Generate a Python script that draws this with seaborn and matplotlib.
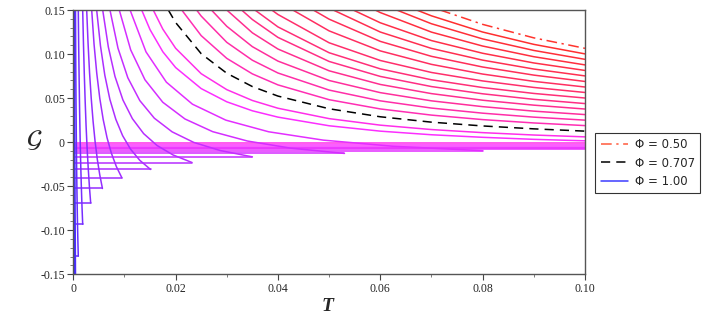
import colorsys
import numpy as np
import pandas as pd
import matplotlib
matplotlib.use("Agg")
import matplotlib.pyplot as plt
import seaborn as sns
from matplotlib.lines import Line2D
from matplotlib.ticker import MultipleLocator

# ---- data ----------------------------------------------------------------
# common T positions used by the curves that reach the right edge
t_grid = [0.015, 0.0175, 0.02, 0.025, 0.03, 0.035, 0.04, 0.05, 0.06, 0.07, 0.08, 0.09, 0.10]

# curves without a cusp inside the window: phi, T where G leaves the top (0.15),
# then G on the last len(row) entries of t_grid
open_phi = [0.500, 0.514, 0.528, 0.541, 0.555, 0.569, 0.583, 0.597, 0.610,
            0.624, 0.638, 0.652, 0.666, 0.679, 0.693, 0.707, 0.720, 0.735]
open_t_top = [0.0717, 0.0671, 0.0632, 0.0590, 0.0547, 0.0508, 0.0469, 0.0429, 0.0388,
              0.0355, 0.0329, 0.0300, 0.0270, 0.0241, 0.0212, 0.01857, 0.01563, 0.01337]
open_g = [
    [0.1337, 0.1184, 0.1065],
    [0.1434, 0.1250, 0.1110, 0.1002],
    [0.1344, 0.1172, 0.1041, 0.0940],
    [0.1471, 0.1249, 0.1091, 0.0970, 0.0877],
    [0.1355, 0.1153, 0.1009, 0.0899, 0.0814],
    [0.1250, 0.1064, 0.0931, 0.0830, 0.0752],
    [0.1396, 0.1144, 0.0974, 0.0853, 0.0761, 0.0689],
    [0.1263, 0.1036, 0.0883, 0.0773, 0.0690, 0.0626],
    [0.1449, 0.1128, 0.0927, 0.0791, 0.0695, 0.0621, 0.0564],
    [0.1308, 0.1015, 0.0832, 0.0708, 0.0620, 0.0553, 0.0501],
    [0.1392, 0.1189, 0.0916, 0.0746, 0.0631, 0.0549, 0.0486, 0.0438],
    [0.1241, 0.1057, 0.0810, 0.0655, 0.0551, 0.0476, 0.0420, 0.0376],
    [0.1315, 0.1084, 0.0920, 0.0700, 0.0562, 0.0469, 0.0403, 0.0352, 0.0313],
    [0.1431, 0.1133, 0.0930, 0.0785, 0.0591, 0.0469, 0.0387, 0.0329, 0.0284, 0.0250],
    [0.1209, 0.0951, 0.0775, 0.0650, 0.0482, 0.0377, 0.0307, 0.0256, 0.0218, 0.0188],
    [0.1358, 0.1004, 0.0782, 0.0631, 0.0523, 0.0379, 0.0288, 0.0227, 0.0184, 0.0151, 0.0125],
    [0.1283, 0.1066, 0.0777, 0.0596, 0.0473, 0.0385, 0.0267, 0.0193, 0.0143, 0.0108, 0.0081, 0.0060],
    [0.1277, 0.1026, 0.0847, 0.0608, 0.0458, 0.0356, 0.0284, 0.0186, 0.0125, 0.0084, 0.0055, 0.0032, 0.0015],
]
# flat lower branch running across the whole window (None = no lower branch seen)
open_g_low = [None] * 16 + [-0.0015, -0.0034]
band_g_low = [-0.0053, -0.0068, -0.0080]
band_phi = [0.740, 0.744, 0.747]

# curves with a cusp: upper branch from the top edge down to the cusp,
# the flat lower branch runs from T=0 to the cusp
cusp_phi = [0.75, 0.77, 0.79, 0.81, 0.83, 0.85, 0.87, 0.89, 0.91, 0.93, 0.955, 0.98]
cusp_t = [
    [0.0111, 0.01421, 0.01819, 0.02329, 0.02981, 0.03817, 0.04886, 0.06256, 0.080],
    [0.00899, 0.01122, 0.01401, 0.01749, 0.02183, 0.02725, 0.03402, 0.04247, 0.053],
    [0.00717, 0.00874, 0.01066, 0.0130, 0.01584, 0.01932, 0.02355, 0.02871, 0.035],
    [0.00575, 0.00685, 0.00815, 0.0097, 0.01155, 0.01375, 0.01637, 0.01949, 0.0232],
    [0.00457, 0.00531, 0.00616, 0.00715, 0.00831, 0.00964, 0.0112, 0.0130, 0.0151],
    [0.0036, 0.00406, 0.00459, 0.00518, 0.00585, 0.0066, 0.00745, 0.00842, 0.0095],
    [0.00262, 0.00289, 0.00318, 0.00351, 0.00387, 0.00426, 0.00469, 0.00517, 0.0057],
    [0.00184, 0.00199, 0.00215, 0.00232, 0.0025, 0.0027, 0.00292, 0.00315, 0.0034],
    [0.00098, 0.00106, 0.00115, 0.00124, 0.00134, 0.00145, 0.00157, 0.0017, 0.00184],
    [0.00043, 0.000477, 0.000528, 0.000586, 0.000649, 0.00072, 0.000798, 0.000884, 0.00098],
    [0.0002, 0.00025, 0.0003, 0.00036, 0.00042, 0.00048],
    [0.0001, 0.00013, 0.00017, 0.00022],
]
cusp_g = [
    [0.15, 0.1025, 0.0681, 0.0431, 0.0250, 0.0118, 0.0023, -0.0047, -0.0097],
    [0.15, 0.1047, 0.0708, 0.0453, 0.0263, 0.0119, 0.0013, -0.0068, -0.0128],
    [0.15, 0.1066, 0.0731, 0.0472, 0.0272, 0.0117, -0.0003, -0.0095, -0.0167],
    [0.15, 0.1081, 0.0746, 0.0479, 0.0267, 0.0097, -0.0038, -0.0145, -0.0231],
    [0.15, 0.1095, 0.0761, 0.0486, 0.0260, 0.0074, -0.0080, -0.0206, -0.0310],
    [0.15, 0.1112, 0.0781, 0.0498, 0.0256, 0.0050, -0.0126, -0.0277, -0.0405],
    [0.15, 0.1122, 0.0789, 0.0496, 0.0237, 0.0009, -0.0192, -0.0369, -0.0526],
    [0.15, 0.1122, 0.0779, 0.0469, 0.0189, -0.0065, -0.0294, -0.0502, -0.0690],
    [0.15, 0.1077, 0.0694, 0.0350, 0.0038, -0.0243, -0.0496, -0.0726, -0.0932],
    [0.15, 0.0967, 0.0501, 0.0094, -0.0263, -0.0575, -0.0847, -0.1086, -0.1295],
    [0.15, 0.06, -0.01, -0.08, -0.14, -0.19],
    [0.15, 0.03, -0.08, -0.18],
]
# phi = 1 collapses onto T = 0
limit_t = [0.00003, 0.00003]
limit_g = [0.16, -0.16]

x_ticks = [0, 0.02, 0.04, 0.06, 0.08, 0.10]
x_labels = ["0", "0.02", "0.04", "0.06", "0.08", "0.10"]
y_ticks = [0.15, 0.10, 0.05, 0, -0.05, -0.10, -0.15]
y_labels = ["0.15", "0.10", "0.05", "0", "-0.05", "-0.10", "-0.15"]
legend_labels = ["\u03a6 = 0.50", "\u03a6 = 0.707", "\u03a6 = 1.00"]

# colour ramp red -> magenta -> violet -> blue (hue in degrees)
hue_phi = [0.5, 0.6, 0.707, 0.72, 0.75, 0.8, 0.85, 0.9, 0.95, 1.0]
hue_deg = [362, 345, 318, 306, 292, 281, 273, 263, 251, 240]


def phi_color(phi):
    hue = np.interp(phi, hue_phi, hue_deg) / 360.0
    return colorsys.hsv_to_rgb(hue % 1.0, 0.82, 1.0)


def draw(ax, ts, gs, color, **kw):
    df = pd.DataFrame({"T": ts, "G": gs})
    sns.lineplot(data=df, x="T", y="G", sort=False, estimator=None,
                 color=color, lw=1.1, ax=ax, **kw)


sns.set_theme(style="white")
fig = plt.figure(figsize=(7.08, 3.28), dpi=100)
ax = fig.add_axes([0.1035, 0.1637, 0.7227, 0.8058])

items = []
for i, phi in enumerate(open_phi):
    items.append((phi, "open", i))
for i, phi in enumerate(band_phi):
    items.append((phi, "band", i))
for i, phi in enumerate(cusp_phi):
    items.append((phi, "cusp", i))
items.sort(key=lambda it: it[0])

for phi, kind, i in items:
    col = phi_color(phi)
    if kind == "open":
        row = open_g[i]
        ts = [open_t_top[i]] + t_grid[len(t_grid) - len(row):]
        gs = [0.15] + row
        if i == 0:
            draw(ax, ts, gs, col, linestyle=(0, (7, 3, 1.5, 3)))
        elif phi == 0.707:
            draw(ax, ts, gs, "black", linestyle=(0, (6, 4)))
        else:
            draw(ax, ts, gs, col)
        if open_g_low[i] is not None:
            draw(ax, [0, 0.10], [open_g_low[i]] * 2, col)
    elif kind == "band":
        draw(ax, [0, 0.10], [band_g_low[i]] * 2, col)
    else:
        ts, gs = cusp_t[i], cusp_g[i]
        draw(ax, ts, gs, col)
        draw(ax, [0, ts[-1]], [gs[-1], gs[-1]], col)

draw(ax, limit_t, limit_g, phi_color(1.0))

ax.set_xlim(0, 0.10)
ax.set_ylim(-0.15, 0.15)
ax.set_xticks(x_ticks)
ax.set_xticklabels(x_labels)
ax.set_yticks(y_ticks)
ax.set_yticklabels(y_labels)
ax.xaxis.set_minor_locator(MultipleLocator(0.01))
ax.yaxis.set_minor_locator(MultipleLocator(0.01))
ax.tick_params(which="major", direction="out", length=4, width=0.8, color="#444444",
               labelsize=8.5, pad=2, bottom=True, left=True)
ax.tick_params(which="minor", direction="out", length=2, width=0.6, color="#666666",
               bottom=True, left=True)
for lab in ax.get_xticklabels() + ax.get_yticklabels():
    lab.set_fontfamily("Liberation Serif")
ax.set_xlabel("")
ax.set_ylabel("")
for sp in ax.spines.values():
    sp.set_visible(True)
    sp.set_color("#555555")
    sp.set_linewidth(1.0)

fig.text(0.463, 0.065, "T", fontsize=14, fontweight="bold", fontstyle="italic",
         family="Liberation Serif", ha="center", va="center")
fig.text(0.049, 0.572, r"$\mathcal{G}$", fontsize=18, math_fontfamily="stix",
         ha="center", va="center")

handles = [
    Line2D([], [], color="#ff5a3c", lw=1.1, linestyle=(0, (7, 3, 1.5, 3))),
    Line2D([], [], color="black", lw=1.1, linestyle=(0, (6, 4))),
    Line2D([], [], color="#3c3cff", lw=1.1),
]
leg = fig.legend(handles, legend_labels, loc="center left", bbox_to_anchor=(0.841, 0.503),
                 frameon=True, fancybox=False, edgecolor="black", fontsize=8.5,
                 handlelength=2.3, borderpad=0.45, labelspacing=0.45, handletextpad=0.6,
                 borderaxespad=0)
leg.get_frame().set_linewidth(0.8)

fig.savefig("out.png", dpi=100)
